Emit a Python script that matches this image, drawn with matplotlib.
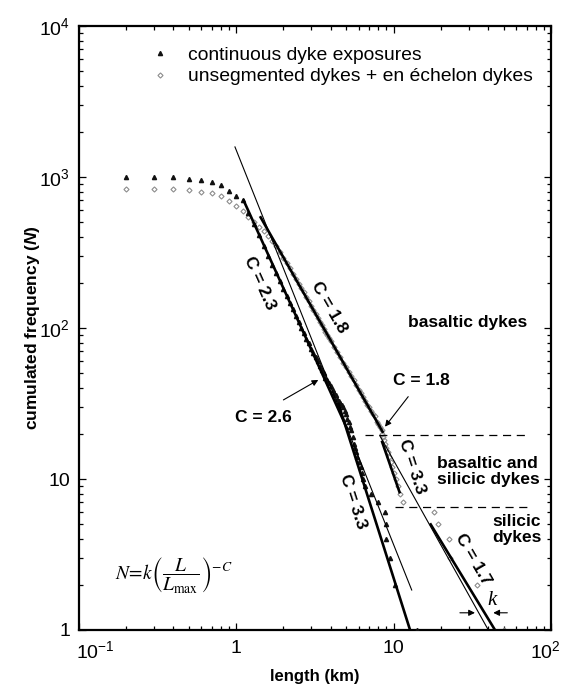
import matplotlib.pyplot as plt
from matplotlib.ticker import NullFormatter
from matplotlib.transforms import ScaledTranslation

plt.rcParams['font.family'] = ['Liberation Sans', 'DejaVu Sans']
plt.rcParams['mathtext.fontset'] = 'custom'
plt.rcParams['mathtext.rm'] = 'Liberation Sans'
plt.rcParams['mathtext.it'] = 'Liberation Sans:italic:bold'
plt.rcParams['mathtext.bf'] = 'Liberation Sans:bold'

# continuous dyke exposures (black triangles)
cont_len = [0.2, 0.3, 0.4, 0.5, 0.6, 0.7, 0.8, 0.9, 1.0, 1.1,
            1.2, 1.3, 1.4, 1.5, 1.6, 1.7, 1.8, 1.9, 2.0, 2.1, 2.2, 2.3, 2.4, 2.5, 2.6, 2.7, 2.8, 2.9, 3.0,
            3.1, 3.2, 3.3, 3.4, 3.5, 3.6, 3.7, 3.8, 3.9, 4.0, 4.1, 4.2, 4.3, 4.4, 4.5, 4.6, 4.7, 4.8, 4.9, 5.0,
            5.1, 5.2, 5.3, 5.4, 5.5, 5.6, 5.7, 5.8, 5.9, 6.0,
            6.2, 6.3, 6.4, 6.6, 7.2, 8.0, 8.8, 8.9, 9.0, 9.5, 10.2, 14.0]
cont_n = [1004, 999, 999, 975, 955, 922, 881, 804, 748, 705,
          580, 485, 410, 350, 302, 262, 230, 204, 181, 163, 147, 133, 120, 110, 100, 92, 85, 79, 73,
          68, 64, 60, 56, 53, 50, 47, 45, 43, 41, 39, 37, 36, 34, 33, 32, 31, 30, 28, 27,
          25, 24, 22, 21, 19, 17, 16, 15, 14, 13,
          12, 11, 10, 9, 8, 7, 6, 5, 4, 3, 2, 1]

# unsegmented dykes + en echelon dykes (grey open diamonds)
unseg_len = [0.2, 0.3, 0.4, 0.5, 0.6, 0.7, 0.8, 0.9, 1.0, 1.1,
             1.2, 1.3, 1.4, 1.5, 1.6, 1.7, 1.8, 1.9, 2.0, 2.1, 2.2, 2.3, 2.4, 2.5, 2.6, 2.7, 2.8, 2.9, 3.0,
             3.1, 3.2, 3.3, 3.4, 3.5, 3.6, 3.7, 3.8, 3.9, 4.0, 4.2, 4.4, 4.6, 4.8, 5.0, 5.2, 5.4, 5.6, 5.8, 6.0,
             6.2, 6.4, 6.6, 6.8, 7.0, 7.2, 7.4, 7.6, 7.8, 8.0, 8.2, 8.4,
             8.5, 8.6, 8.7, 8.85, 9.0, 9.2, 9.4, 9.6, 9.85, 10.1, 10.4, 10.7, 11.0, 11.5,
             18.2, 19.3, 22.6, 22.9, 34.0, 50.0]
unseg_n = [834, 830, 834, 821, 796, 780, 752, 697, 643, 596,
           546, 505, 468, 436, 405, 376, 350, 318, 292, 268, 248, 229, 212, 197, 184, 172, 161, 150, 140,
           132, 124, 117, 110, 104, 99, 94, 90, 86, 82, 75, 69, 64, 59, 55, 51, 48, 45, 42, 39,
           37, 35, 33, 31, 30, 28, 27, 26, 24, 23, 22, 21,
           20, 19, 18, 17, 16, 15, 14, 13, 12, 11, 10, 9, 8, 7,
           6, 5, 4, 3, 2, 1]

# fitted power-law segments: (L1, N1, L2, N2)
thick_fits = {
    '2.3': (1.11, 711, 5.1, 21.3),
    '3.3a': (4.45, 32, 12.74, 1),
    '1.8': (1.42, 550, 8.61, 20.2),
    '3.3b': (8.42, 17.9, 10.99, 8.03),
    '1.7': (17.05, 5.09, 44.1, 1),
}
thin_fits = {
    '2.6': (0.985, 1582, 13.05, 1.84),
    '1.7': (8.2, 19.3, 40.0, 1),
}
# class boundaries (N level, L from, L to)
boundaries = [(19.6, 6.59, 70.5), (6.53, 10.2, 70.5)]

fig = plt.figure(figsize=(5.65, 6.86), dpi=100)
ax = fig.add_axes([78.5 / 565, 56 / 686, 472.5 / 565, 604 / 686])
ax.set_xscale('log')
ax.set_yscale('log')
ax.set_xlim(0.1, 100)
ax.set_ylim(1, 1e4)

ax.plot(unseg_len, unseg_n, ls='none', marker='D', ms=2.6, mfc='none', mec='#8c8c8c', mew=0.8,
        label='unsegmented dykes + en \u00e9chelon dykes', zorder=2)
ax.plot(cont_len, cont_n, ls='none', marker='^', ms=3.0, color='#111111',
        label='continuous dyke exposures', zorder=3)

for L1, N1, L2, N2 in thick_fits.values():
    ax.plot([L1, L2], [N1, N2], color='k', lw=1.9, solid_capstyle='butt', zorder=4)
for L1, N1, L2, N2 in thin_fits.values():
    ax.plot([L1, L2], [N1, N2], color='k', lw=0.8, zorder=4)
for n, l1, l2 in boundaries:
    ax.plot([l1, l2], [n, n], color='k', lw=0.9, dashes=(6.5, 4.5))

# labels
lab = dict(fontsize=12.5, fontweight='bold', ha='center', va='center', rotation_mode='anchor')
ax.text(1.42, 199, 'C = 2.3', rotation=-66, **lab)
ax.text(3.89, 138, 'C = 1.8', rotation=-60, **lab)
ax.text(5.50, 7.08, 'C = 3.3', rotation=-72, **lab)
ax.text(13.2, 12.06, 'C = 3.3', rotation=-72, **lab)
ax.text(32.0, 2.95, 'C = 1.7', rotation=-60, **lab)
ax.text(1.486, 25.4, 'C = 2.6', **lab)
ax.text(15.1, 44.6, 'C = 1.8', **lab)
ax.text(12.4, 108, 'basaltic dykes', fontsize=12.5, fontweight='bold', ha='left', va='center')
ax.text(18.8, 11.2, 'basaltic and\nsilicic dykes', fontsize=12.5, fontweight='bold',
        ha='left', va='center', linespacing=1.1)
ax.text(60.8, 4.61, 'silicic\ndykes', fontsize=12.5, fontweight='bold',
        ha='center', va='center', linespacing=1.1)

arr = dict(arrowstyle='-|>', lw=0.8, color='k', mutation_scale=9, shrinkA=0, shrinkB=0)
ax.annotate('', xy=(3.33, 45.3), xytext=(2.0, 33.4), arrowprops=arr)
ax.annotate('', xy=(8.83, 22.2), xytext=(12.4, 35.1), arrowprops=arr)
ax.annotate('', xy=(32.9, 1.30), xytext=(26.4, 1.30), arrowprops=arr)
ax.annotate('', xy=(43.0, 1.30), xytext=(52.8, 1.30), arrowprops=arr)
ax.text(42.0, 1.58, 'k', fontsize=15, fontstyle='italic', family='Liberation Serif',
        ha='center', va='center')

ax.text(0.1706, 2.31, r'$N\!=\!k\left(\dfrac{L}{L_{\max}}\right)^{-C}$', fontsize=14,
        math_fontfamily='stix', ha='left', va='center')

# axes
ax.set_xticks([0.1, 1, 10, 100])
ax.set_xticklabels([r'$10^{-1}$', '1', '10', r'$10^{2}$'])
ax.set_yticks([1, 10, 100, 1000, 10000])
ax.set_yticklabels(['1', '10', r'$10^{2}$', r'$10^{3}$', r'$10^{4}$'])
ax.xaxis.set_minor_formatter(NullFormatter())
ax.yaxis.set_minor_formatter(NullFormatter())
ax.tick_params(which='both', direction='in', top=True, right=True, labelsize=14, width=0.9)
ax.tick_params(which='major', length=5)
ax.tick_params(which='minor', length=3)
ax.tick_params(axis='x', pad=7.5)
ax.tick_params(axis='y', pad=6)
for s in ax.spines.values():
    s.set_linewidth(1.6)

xlabels = ax.get_xticklabels()
xlabels[0].set_horizontalalignment('left')
xlabels[0].set_transform(xlabels[0].get_transform() + ScaledTranslation(-3 / 100, 0, fig.dpi_scale_trans))
xlabels[-1].set_transform(xlabels[-1].get_transform() + ScaledTranslation(-6 / 100, 0, fig.dpi_scale_trans))

ax.set_xlabel('length (km)', fontsize=12, fontweight='bold', labelpad=5)
ax.set_ylabel(r'cumulated frequency ($\mathit{N}$)', fontsize=12.5, fontweight='bold', labelpad=-2)

ax.legend(loc='upper left', bbox_to_anchor=(0.1524, 0.966), frameon=False, fontsize=13.9,
          handlelength=1.0, handletextpad=0.95, borderpad=0, borderaxespad=0,
          labelspacing=0.2, numpoints=1, reverse=True)

fig.savefig('out.png', dpi=100)
